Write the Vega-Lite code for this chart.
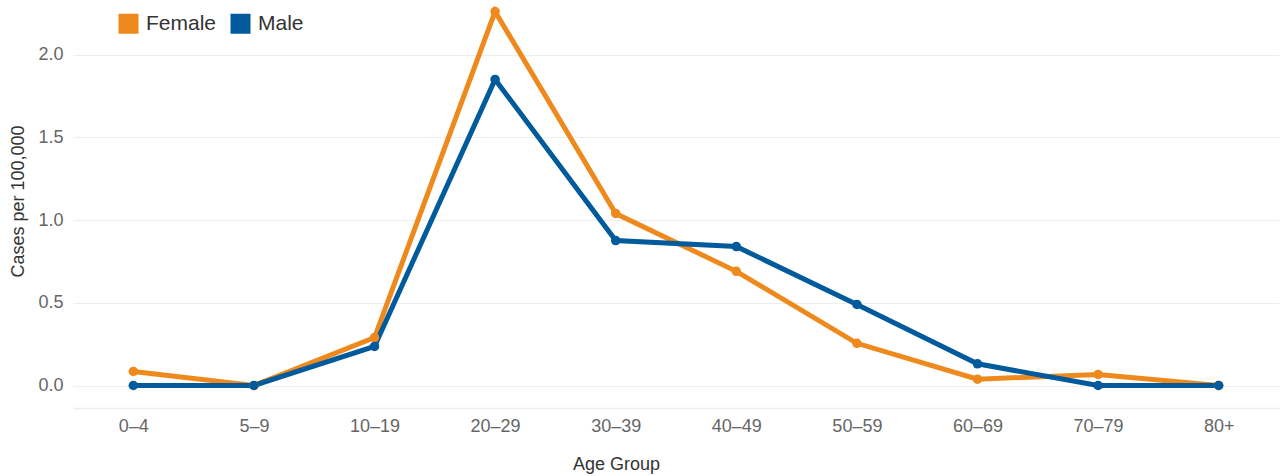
{
  "$schema": "https://vega.github.io/schema/vega-lite/v6.json",
  "autosize": {"type": "none"},
  "width": 1206,
  "height": 403,
  "padding": {"left": 73, "top": 5, "right": 4, "bottom": 68},
  "background": "white",
  "config": {
    "view": {"stroke": null},
    "font": "Liberation Sans"
  },
  "data": {
    "values": [
      {"age": "0–4", "sex": "Female", "rate": 0.085},
      {"age": "5–9", "sex": "Female", "rate": 0.0},
      {"age": "10–19", "sex": "Female", "rate": 0.29},
      {"age": "20–29", "sex": "Female", "rate": 2.26},
      {"age": "30–39", "sex": "Female", "rate": 1.04},
      {"age": "40–49", "sex": "Female", "rate": 0.69},
      {"age": "50–59", "sex": "Female", "rate": 0.255},
      {"age": "60–69", "sex": "Female", "rate": 0.038},
      {"age": "70–79", "sex": "Female", "rate": 0.067},
      {"age": "80+", "sex": "Female", "rate": 0.0},
      {"age": "0–4", "sex": "Male", "rate": 0.0},
      {"age": "5–9", "sex": "Male", "rate": 0.0},
      {"age": "10–19", "sex": "Male", "rate": 0.236},
      {"age": "20–29", "sex": "Male", "rate": 1.85},
      {"age": "30–39", "sex": "Male", "rate": 0.876},
      {"age": "40–49", "sex": "Male", "rate": 0.84},
      {"age": "50–59", "sex": "Male", "rate": 0.49},
      {"age": "60–69", "sex": "Male", "rate": 0.131},
      {"age": "70–79", "sex": "Male", "rate": 0.0},
      {"age": "80+", "sex": "Male", "rate": 0.0}
    ]
  },
  "mark": {"type": "line", "strokeWidth": 5, "point": {"size": 90, "filled": true}},
  "encoding": {
    "x": {
      "field": "age",
      "type": "ordinal",
      "sort": null,
      "scale": {"type": "point", "padding": 0.5},
      "axis": {
        "title": "Age Group",
        "titleFont": "Liberation Sans",
        "titleFontSize": 18,
        "titleFontWeight": "normal",
        "titleColor": "#333333",
        "titleX": 543,
        "titleY": 56,
        "titleAlign": "center",
        "titleBaseline": "middle",
        "labelFont": "Liberation Sans",
        "labelFontSize": 18,
        "labelColor": "#666666",
        "labelPadding": 9,
        "labelAngle": 0,
        "ticks": false,
        "domain": true,
        "domainColor": "#eeeeee",
        "domainWidth": 1.5,
        "grid": false
      }
    },
    "y": {
      "field": "rate",
      "type": "quantitative",
      "scale": {"domain": [-0.136, 2.3], "nice": false, "zero": false},
      "axis": {
        "title": "Cases per 100,000",
        "values": [0, 0.5, 1, 1.5, 2],
        "format": ".1f",
        "titleFont": "Liberation Sans",
        "titleFontSize": 18,
        "titleFontWeight": "normal",
        "titleColor": "#333333",
        "titleX": -55,
        "titleY": 196,
        "titleAlign": "center",
        "titleBaseline": "middle",
        "titleAngle": -90,
        "labelFont": "Liberation Sans",
        "labelFontSize": 18,
        "labelColor": "#666666",
        "labelPadding": 10,
        "ticks": false,
        "domain": false,
        "grid": true,
        "gridColor": "#eeeeee",
        "gridWidth": 1
      }
    },
    "color": {
      "field": "sex",
      "type": "nominal",
      "scale": {"domain": ["Female", "Male"], "range": ["#EE8A1D", "#005A9C"]},
      "legend": {
        "title": null,
        "orient": "none",
        "legendX": 45,
        "legendY": 8,
        "direction": "horizontal",
        "symbolType": "square",
        "symbolSize": 400,
        "symbolStrokeWidth": 0,
        "labelFont": "Liberation Sans",
        "labelFontSize": 21,
        "labelColor": "#333333",
        "labelOffset": 7,
        "columnPadding": 13
      }
    }
  }
}
